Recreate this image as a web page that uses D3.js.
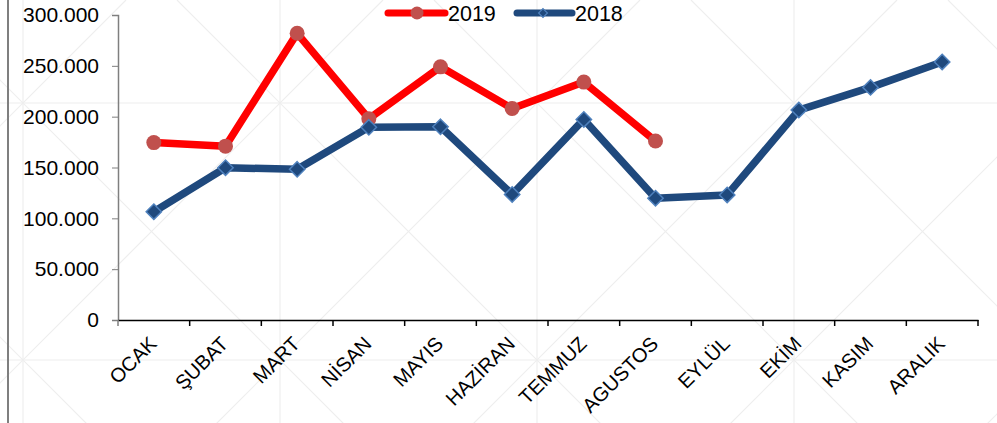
<!DOCTYPE html>
<html>
<head>
<meta charset="utf-8">
<script src="https://cdn.jsdelivr.net/npm/d3@7"></script>
<style>
  body { margin: 0; background: #fff; }
  svg { display: block; font-family: "Liberation Sans", Arial, sans-serif; }
</style>
</head>
<body>
<svg id="chart" width="997" height="423"></svg>
<script>
// data
var months = ["OCAK", "ŞUBAT", "MART", "NİSAN", "MAYIS", "HAZİRAN", "TEMMUZ", "AGUSTOS", "EYLÜL", "EKİM", "KASIM", "ARALIK"];
var values2019 = [174500, 171000, 282000, 198000, 249000, 208000, 234000, 176000];
var values2018 = [106500, 149800, 148200, 189500, 190000, 123500, 197300, 119800, 123000, 206500, 228800, 253800];
var yTicks = [0, 50000, 100000, 150000, 200000, 250000, 300000];
var seriesNames = ["2019", "2018"];

var svg = d3.select("#chart"),
    margin = {top: 15, right: 19, bottom: 103, left: 118},
    width = +svg.attr("width") - margin.left - margin.right,
    height = +svg.attr("height") - margin.top - margin.bottom;

// faint watermark pattern behind the chart
var bg = svg.append("g").attr("stroke", "#eeeeee").attr("stroke-width", 1.2).attr("fill", "none");
var cell = 257, ox = 23, oy = 103;
for (var k = -1; k < 5; k++) {
  bg.append("line").attr("x1", ox + k * cell).attr("x2", ox + k * cell).attr("y1", 0).attr("y2", 423);
  bg.append("line").attr("x1", 0).attr("x2", 997).attr("y1", oy + k * cell).attr("y2", oy + k * cell);
}
for (var j = -4; j < 8; j++) {
  var c1 = (ox - oy) + j * cell;      // x - y = c1
  bg.append("line").attr("x1", c1).attr("y1", 0).attr("x2", c1 + 1400).attr("y2", 1400);
  var c2 = (ox + oy) + j * cell;      // x + y = c2
  bg.append("line").attr("x1", c2).attr("y1", 0).attr("x2", c2 - 1400).attr("y2", 1400);
}
svg.append("line")
    .attr("x1", 8).attr("x2", 8).attr("y1", 0).attr("y2", 423)
    .attr("stroke", "#7f7f7f").attr("stroke-width", 2);

var g = svg.append("g").attr("transform", "translate(" + margin.left + "," + margin.top + ")");

var x = d3.scaleBand()
    .domain(months)
    .range([0, width]);

var y = d3.scaleLinear()
    .domain([0, 300000])
    .range([height, 0]);

var fmt = function(d) { return d3.format(",")(d).replace(/,/g, "."); };

// y axis
var yAxis = g.append("g")
    .call(d3.axisLeft(y).tickValues(yTicks).tickFormat(fmt).tickSize(6).tickPadding(13));
yAxis.select(".domain").attr("stroke", "#7f7f7f").attr("stroke-width", 1.5);
yAxis.selectAll(".tick line").attr("stroke", "#7f7f7f");
yAxis.selectAll("text").attr("font-size", "21px").attr("fill", "#000")
    .attr("font-family", "Liberation Sans, Arial, sans-serif");

// x axis with ticks at band edges
var xAxis = g.append("g")
    .attr("transform", "translate(0," + height + ")")
    .call(d3.axisBottom(x).tickSize(0).tickPadding(0));
xAxis.select(".domain").attr("stroke", "#000").attr("stroke-width", 1.5);
xAxis.selectAll(".tick text")
    .attr("font-size", "20px")
    .attr("fill", "#000")
    .attr("font-family", "Liberation Sans, Arial, sans-serif")
    .attr("text-anchor", "end")
    .attr("dy", null)
    .attr("transform", "translate(4,25) rotate(-45)");
g.append("g").selectAll("line")
    .data(months.concat(["end"]))
    .enter().append("line")
      .attr("x1", function(d, i) { return i * x.step(); })
      .attr("x2", function(d, i) { return i * x.step(); })
      .attr("y1", height)
      .attr("y2", height + 6)
      .attr("stroke", function(d, i) { return i === 0 ? "#7f7f7f" : "#000"; })
      .attr("stroke-width", 1.5);

var cx = function(d, i) { return x(months[i]) + x.bandwidth() / 2; };
var line = d3.line().x(cx).y(function(d) { return y(d); });

// 2018 series
g.append("path")
    .datum(values2018)
    .attr("fill", "none")
    .attr("stroke", "#1f497d")
    .attr("stroke-width", 7.5)
    .attr("stroke-linejoin", "round")
    .attr("d", line);

// 2019 series
g.append("path")
    .datum(values2019)
    .attr("fill", "none")
    .attr("stroke", "#ff0000")
    .attr("stroke-width", 7.5)
    .attr("stroke-linejoin", "round")
    .attr("d", line);

g.selectAll(".dot2019")
    .data(values2019)
    .enter().append("circle")
      .attr("class", "dot2019")
      .attr("cx", cx)
      .attr("cy", function(d) { return y(d); })
      .attr("r", 7.5)
      .attr("fill", "#c0504d");

var diamond = d3.symbol().type(d3.symbolDiamond2).size(150);
g.selectAll(".dot2018")
    .data(values2018)
    .enter().append("path")
      .attr("class", "dot2018")
      .attr("d", diamond)
      .attr("transform", function(d, i) { return "translate(" + cx(d, i) + "," + y(d) + ")"; })
      .attr("fill", "#1f497d")
      .attr("stroke", "#4f81bd")
      .attr("stroke-width", 1.5);

// legend
var legend = svg.append("g").attr("transform", "translate(388,13)");
var l1 = legend.append("g");
l1.append("line").attr("x1", 0).attr("x2", 57).attr("y1", 0).attr("y2", 0)
    .attr("stroke", "#ff0000").attr("stroke-width", 7).attr("stroke-linecap", "round");
l1.append("circle").attr("cx", 29).attr("cy", 0).attr("r", 6.5).attr("fill", "#c0504d");
l1.append("text").attr("x", 60).attr("y", 0).attr("dy", "0.35em")
    .attr("font-size", "21.5px").text(seriesNames[0]);

var l2 = legend.append("g").attr("transform", "translate(129,0)");
l2.append("line").attr("x1", 0).attr("x2", 55).attr("y1", 0).attr("y2", 0)
    .attr("stroke", "#1f497d").attr("stroke-width", 7).attr("stroke-linecap", "round");
l2.append("path").attr("d", d3.symbol().type(d3.symbolDiamond2).size(50))
    .attr("transform", "translate(26,0)")
    .attr("fill", "#1f497d").attr("stroke", "#4f81bd").attr("stroke-width", 1.2);
l2.append("text").attr("x", 58).attr("y", 0).attr("dy", "0.35em")
    .attr("font-size", "21.5px").text(seriesNames[1]);
</script>
</body>
</html>
